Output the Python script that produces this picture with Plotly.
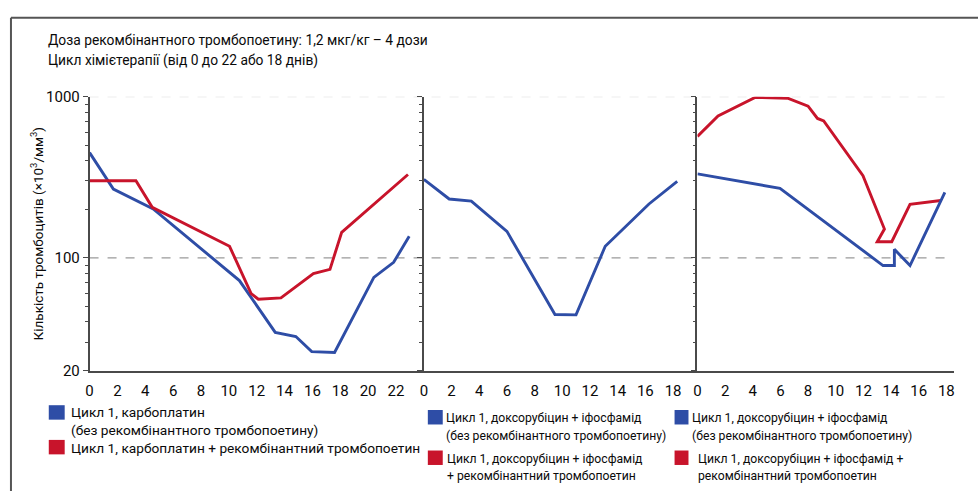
import plotly.graph_objects as go

# ---------------- data ----------------
title_lines = ["Доза рекомбінантного тромбопоетину: 1,2 мкг/кг – 4 дози",
               "Цикл хімієтерапії (від 0 до 22 або 18 днів)"]
y_title = "Кількість тромбоцитів (×10<sup>3</sup>/мм<sup>3</sup>)"

# panel 1: carboplatin
days_carbo_ctrl = [0, 1.71, 4.57, 10.76, 13.33, 14.81, 15.95, 17.59, 20.41, 21.83, 22.95]
plt_carbo_ctrl = [450, 267, 201, 72.3, 34.5, 32.5, 26.2, 25.9, 75.7, 93.8, 136]
days_carbo_tpo = [0, 3.33, 4.5, 10.05, 11.6, 12.12, 13.74, 16.07, 17.26, 18.1, 22.86]
plt_carbo_tpo = [301, 301, 206, 118, 60, 55.4, 56.4, 80, 84.9, 144, 329]

# panel 2: doxorubicin + ifosfamide (control only)
days_dox_ctrl = [0, 1.83, 3.43, 6.0, 9.47, 10.99, 13.1, 16.26, 18.3]
plt_dox_ctrl = [307, 232, 225, 146, 44.5, 44.3, 118, 216, 298]

# panel 3: doxorubicin + ifosfamide
days_dox2_ctrl = [0, 5.97, 13.42, 14.24, 14.24, 15.37, 17.89]
plt_dox2_ctrl = [332, 270, 89.6, 89.6, 113, 89.6, 255]
days_dox2_tpo = [0, 1.49, 4.17, 6.57, 8.0, 8.68, 9.13, 11.97, 13.52, 13.0, 14.05, 15.37, 17.6]
plt_dox2_tpo = [567, 760, 990, 977, 873, 733, 708, 324, 151, 126, 126, 215, 227]

x_ticks_p1 = [0, 2, 4, 6, 8, 10, 12, 14, 16, 18, 20, 22]
x_ticks_p23 = [0, 2, 4, 6, 8, 10, 12, 14, 16, 18]
y_major = [20, 100, 1000]
y_minor = [30, 40, 50, 60, 70, 80, 90, 200, 300, 400, 500, 600, 700, 800, 900]

legend1 = [["Цикл 1, карбоплатин", "(без рекомбінантного тромбопоетину)"],
           ["Цикл 1, карбоплатин + рекомбінантний тромбопоетин"]]
legend2 = [["Цикл 1, доксорубіцин + іфосфамід", "(без рекомбінантного тромбопоетину)"],
           ["Цикл 1, доксорубіцин + іфосфамід", "+ рекомбінантний тромбопоетин"]]
legend3 = [["Цикл 1, доксорубіцин + іфосфамід", "(без рекомбінантного тромбопоетину)"],
           ["Цикл 1, доксорубіцин + іфосфамід +", "рекомбінантний тромбопоетин"]]

# ---------------- style ----------------
W, H = 979, 500
BLUE = "#2E4DA6"
RED = "#C8142B"
AXC = "#4a4a4a"
FONT = "Roboto"
TXT = "#0a0a0a"


def px(x):
    return x / W


def py(y):
    return 1 - y / H


fig = go.Figure()
line_w = 2.9
fig.add_trace(go.Scatter(x=days_carbo_ctrl, y=plt_carbo_ctrl, mode="lines",
                         line=dict(color=BLUE, width=line_w), xaxis="x", yaxis="y"))
fig.add_trace(go.Scatter(x=days_carbo_tpo, y=plt_carbo_tpo, mode="lines",
                         line=dict(color=RED, width=line_w), xaxis="x", yaxis="y"))
fig.add_trace(go.Scatter(x=days_dox_ctrl, y=plt_dox_ctrl, mode="lines",
                         line=dict(color=BLUE, width=line_w), xaxis="x2", yaxis="y2"))
fig.add_trace(go.Scatter(x=days_dox2_tpo, y=plt_dox2_tpo, mode="lines",
                         line=dict(color=RED, width=line_w), xaxis="x3", yaxis="y3"))
fig.add_trace(go.Scatter(x=days_dox2_ctrl, y=plt_dox2_ctrl, mode="lines",
                         line=dict(color=BLUE, width=line_w), xaxis="x3", yaxis="y3"))

y_dom = [py(375), py(91)]
panels = [
    (86, 422, 24.0, x_ticks_p1),
    (422, 697, 19.76, x_ticks_p23),
    (697, 955, 18.56, x_ticks_p23),
]
tickfont = dict(family=FONT, size=15, color=TXT)
for i, (l, r, xmax, ticks) in enumerate(panels):
    sfx = "" if i == 0 else str(i + 1)
    fig.layout["xaxis" + sfx] = dict(
        domain=[px(l), px(r)], range=[0, xmax], anchor="y" + sfx,
        tickmode="array", tickvals=ticks, ticktext=[str(t) for t in ticks],
        ticks="", showgrid=False, zeroline=False, showline=True,
        linecolor=AXC, linewidth=1.5, tickfont=tickfont, ticklabelstandoff=6,
        fixedrange=True)
    ydict = dict(
        domain=y_dom, type="log", range=[1.30103, 3.0], anchor="x" + sfx,
        tickmode="array", tickvals=y_major,
        showticklabels=(i == 0),
        ticks="outside", ticklen=5, tickwidth=1.3, tickcolor=AXC,
        minor=dict(tickmode="array", tickvals=y_minor, ticks="outside",
                   ticklen=3, tickwidth=1.2, tickcolor=AXC, showgrid=False),
        showgrid=False, zeroline=False, showline=True, linecolor=AXC, linewidth=1.5,
        tickfont=tickfont, fixedrange=True)
    if i == 0:
        ydict["ticktext"] = [str(v) for v in y_major]
    fig.layout["yaxis" + sfx] = ydict

shapes = []
shapes.append(dict(type="line", xref="paper", yref="y", x0=px(86), x1=px(948),
                   y0=100, y1=100, line=dict(color="#9a9a9a", width=1.2, dash="dash"), layer="below"))
shapes.append(dict(type="line", xref="paper", yref="y", x0=px(86), x1=px(948),
                   y0=1000, y1=1000, line=dict(color="#dcdcdc", width=1.2, dash="dash"), layer="below"))
shapes.append(dict(type="line", xref="paper", yref="paper", x0=px(7), x1=1.0,
                   y0=py(9), y1=py(9), line=dict(color="#555555", width=2)))
shapes.append(dict(type="line", xref="paper", yref="paper", x0=px(7), x1=px(7),
                   y0=py(9), y1=0, line=dict(color="#555555", width=2)))

annotations = []
for j, yy in enumerate([32, 53]):
    annotations.append(dict(text=title_lines[j], x=px(42), y=py(yy), xref="paper", yref="paper",
                            xanchor="left", yanchor="middle", showarrow=False,
                            font=dict(family=FONT, size=13.8, color=TXT)))
annotations.append(dict(text=y_title, x=px(33), y=py(233), xref="paper", yref="paper",
                        xanchor="center", yanchor="middle", showarrow=False, textangle=-90,
                        font=dict(family=FONT, size=13.5, color=TXT)))

legend_specs = [
    (legend1, 13.7, (45, 61), [(411, 426), (447, 462)], [65, 65], [[418, 437], [455]]),
    (legend2, 12.2, (426, 441), [(416, 431), (458, 473)], [442, 443], [[424, 443], [467, 484]]),
    (legend3, 12.2, (674, 688), [(416, 431), (458, 473)], [690, 696], [[424, 443], [467, 484]]),
]
for entries, fsize, (sx0, sx1), sq_y, txt_x, txt_y in legend_specs:
    for k, lines in enumerate(entries):
        col = BLUE if k == 0 else RED
        shapes.append(dict(type="rect", xref="paper", yref="paper",
                           x0=px(sx0), x1=px(sx1), y0=py(sq_y[k][1]), y1=py(sq_y[k][0]),
                           fillcolor=col, line=dict(width=0)))
        for j, line in enumerate(lines):
            annotations.append(dict(text=line, x=px(txt_x[k]), y=py(txt_y[k][j]),
                                    xref="paper", yref="paper", xanchor="left",
                                    yanchor="middle", showarrow=False,
                                    font=dict(family=FONT, size=fsize, color=TXT)))

fig.update_layout(width=W, height=H, margin=dict(l=0, r=0, t=0, b=0),
                  paper_bgcolor="white", plot_bgcolor="white", showlegend=False,
                  shapes=shapes, annotations=annotations)

fig.write_html("out.html")
